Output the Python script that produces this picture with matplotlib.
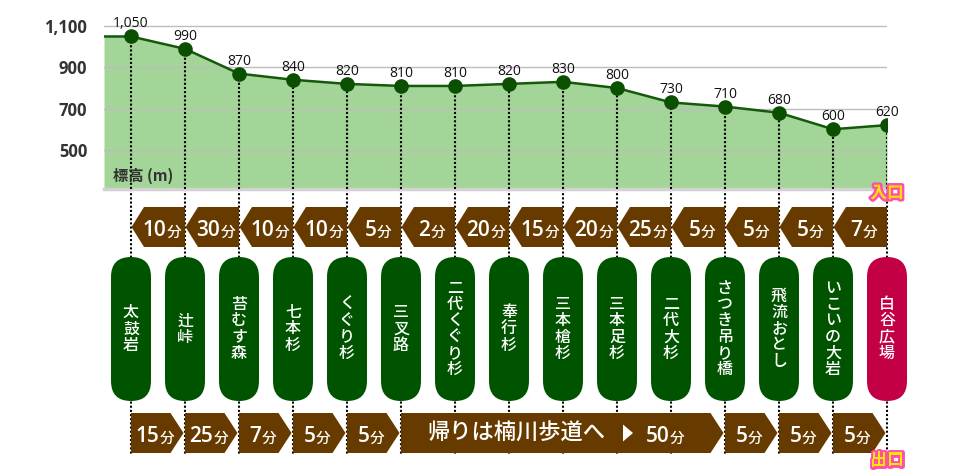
import numpy as np
import matplotlib
matplotlib.use('Agg')
import matplotlib.pyplot as plt
from matplotlib.patches import Polygon, FancyBboxPatch
from matplotlib.transforms import offset_copy
import matplotlib.patheffects as pe

plt.rcParams['font.family'] = ['Noto Sans CJK JP', 'DejaVu Sans']
NUMFONT = ['Open Sans', 'Noto Sans CJK JP', 'DejaVu Sans']

# ---------------- data ----------------
stations = ['太鼓岩', '辻峠', '苔むす森', '七本杉', 'くぐり杉', '三叉路', '二代くぐり杉',
            '奉行杉', '三本槍杉', '三本足杉', '二代大杉', 'さつき吊り橋', '飛流おとし',
            'いこいの大岩', '白谷広場']
elevations = [1050, 990, 870, 840, 820, 810, 810, 820, 830, 800, 730, 710, 680, 600, 620]
up_minutes = [10, 30, 10, 10, 5, 2, 20, 15, 20, 25, 5, 5, 5, 7]
down_stops = [0, 1, 2, 3, 4, 5, 11, 12, 13, 14]
down_minutes = [15, 25, 7, 5, 5, 50, 5, 5, 5]
down_notes = ['', '', '', '', '', '帰りは楠川歩道へ', '', '', '']
yticks = [500, 700, 900, 1100]
ytick_labels = ['500', '700', '900', '1,100']
axis_label = '標高 (m)'
entrance_label = '入口'
exit_label = '出口'
unit = '分'

# ---------------- style ----------------
FILL = '#A3D498'
LINE = '#145A0A'
MARK = '#0B5000'
BROWN = '#673B00'
PILL = '#005400'
PILL_END = '#C30046'

W, H = 980, 470
fig = plt.figure(figsize=(W / 100, H / 100), dpi=100)
n = len(elevations)
PX_L, PX_R, PX_T, PX_B = 104, 887, 20, 189
YMIN, YMAX = 310, 1130

ax = fig.add_axes([PX_L / W, 1 - PX_B / H, (PX_R - PX_L) / W, (PX_B - PX_T) / H])
X0, X1 = -0.5, n - 1
scale = (X1 - X0) / (PX_R - PX_L)  # index units per pixel

ax2 = fig.add_axes([0, 0, 1, 1])
ax2.set_zorder(0)
ax.set_zorder(1)
ax.patch.set_alpha(0)
ax2.set_xlim(X0 - PX_L * scale, X0 + (W - PX_L) * scale)
ax2.set_ylim(H, 0)
ax2.axis('off')

xs = np.arange(n)
line_x = np.concatenate([[X0], xs])
line_y = np.concatenate([[elevations[0]], elevations])

# ---------------- elevation chart ----------------
ax.fill_between(line_x, line_y, YMIN, color=FILL, lw=0, zorder=1)
for t in yticks:
    ax.axhline(t, color='#bdbdbd', lw=1, zorder=1.5)
ax.axhline(YMIN, color='#d2d2d2', lw=2.5, zorder=1.5, clip_on=False)
ax.vlines(xs, YMIN, elevations, colors='black', linestyles=(0, (1, 1)), lw=1.5, zorder=2)
ax.plot(line_x, line_y, color=LINE, lw=1.8, zorder=3)
ax.plot(xs, elevations, 'o', ms=9.5, color=MARK, zorder=4)
for x, v in zip(xs, elevations):
    ax.annotate(f'{v:,}', (x, v), xytext=(0, 6.5), textcoords='offset points',
                ha='center', va='baseline', fontsize=10, color='#111111',
                family=NUMFONT, annotation_clip=False, zorder=5)
ax.set_xlim(X0, X1)
ax.set_ylim(YMIN, YMAX)
ax.set_yticks(yticks, ytick_labels)
ax.set_xticks([])
ax.tick_params(axis='y', length=0, pad=12, labelsize=12, labelcolor='#333333')
for lab in ax.get_yticklabels():
    lab.set_family(NUMFONT)
    lab.set_fontweight('bold')
for s in ax.spines.values():
    s.set_visible(False)
ax.text(0.012, 0.075, axis_label, transform=ax.transAxes, ha='left', va='center',
        fontsize=11, fontweight='bold', color='#333333', zorder=6)

# ---------------- route infographic ----------------
renderer = fig.canvas.get_renderer()


def two_part(axx, xc, y, big, small, bigsize=15, smallsize=10.5, color='white'):
    t1 = axx.text(xc, y, big, ha='left', va='baseline', fontsize=bigsize, color=color,
                  family=NUMFONT, fontweight='semibold', zorder=5)
    t2 = axx.text(xc, y, small, ha='left', va='baseline', fontsize=smallsize, color=color,
                  fontweight='medium', zorder=5)
    w1 = t1.get_window_extent(renderer).width
    w2 = t2.get_window_extent(renderer).width
    tot = w1 + w2
    t1.set_transform(offset_copy(axx.transData, fig=fig, x=-tot / 2, y=0, units='dots'))
    t2.set_transform(offset_copy(axx.transData, fig=fig, x=-tot / 2 + w1, y=0, units='dots'))


ax2.vlines(xs, PX_B, 455, colors='black', linestyles=(0, (1, 1)), lw=1.5, zorder=1)

HEAD = 13 * scale
TOP_T, TOP_B = 207, 247
top_mid = (TOP_T + TOP_B) / 2
for i, m in enumerate(up_minutes):
    a, b = xs[i], xs[i + 1]
    poly = [(a + 0.01, top_mid), (a + HEAD, TOP_T), (b, TOP_T), (b, TOP_B), (a + HEAD, TOP_B)]
    ax2.add_patch(Polygon(poly, closed=True, fc=BROWN, ec='none', zorder=2))
    two_part(ax2, b - 0.43, top_mid + 9.5, str(m), unit)

PILL_T, PILL_B = 257, 401
hw = 20 * scale
pill_mid = (PILL_T + PILL_B) / 2
for i, name in enumerate(stations):
    col = PILL_END if i == n - 1 else PILL
    box = FancyBboxPatch((xs[i] - hw, PILL_T), 2 * hw, PILL_B - PILL_T,
                         boxstyle=f'round,pad=0,rounding_size={hw}',
                         mutation_aspect=1 / scale, fc=col, ec='none', zorder=2)
    ax2.add_patch(box)
    k = len(name)
    for j, ch in enumerate(name):
        ax2.text(xs[i], pill_mid + (j - (k - 1) / 2) * 16.3, ch, ha='center', va='center',
                 fontsize=11.5, color='white', fontweight='medium', zorder=5)

BOT_T, BOT_B = 413, 453
bot_mid = (BOT_T + BOT_B) / 2
gap = 1.5 * scale
for k, m in enumerate(down_minutes):
    a, b = down_stops[k], down_stops[k + 1]
    poly = [(a, BOT_T), (b - HEAD - gap, BOT_T), (b - gap, bot_mid), (b - HEAD - gap, BOT_B), (a, BOT_B)]
    ax2.add_patch(Polygon(poly, closed=True, fc=BROWN, ec='none', zorder=2))
    if down_notes[k]:
        ax2.text(a + 115 * scale, bot_mid, down_notes[k], ha='center', va='center',
                 fontsize=16, color='white', fontweight='medium', zorder=5)
        c = a + 227 * scale
        tri = [(c - 5 * scale, bot_mid - 8.5), (c + 5 * scale, bot_mid), (c - 5 * scale, bot_mid + 8.5)]
        ax2.add_patch(Polygon(tri, closed=True, fc='white', ec='none', zorder=5))
        two_part(ax2, a + 264 * scale, bot_mid + 9.5, str(m), unit)
    else:
        two_part(ax2, a + 0.44, bot_mid + 9.5, str(m), unit)

stroke = [pe.withStroke(linewidth=3.5, foreground='#FF4FA8')]
fig.text(X1, 193, entrance_label, transform=ax2.transData, ha='center', va='center',
         fontsize=12, fontweight='bold', color='#FFE600', path_effects=stroke, zorder=10)
fig.text(X1, 460, exit_label, transform=ax2.transData, ha='center', va='center',
         fontsize=12, fontweight='bold', color='#FFE600', path_effects=stroke, zorder=10)

fig.savefig('out.png', dpi=100)
